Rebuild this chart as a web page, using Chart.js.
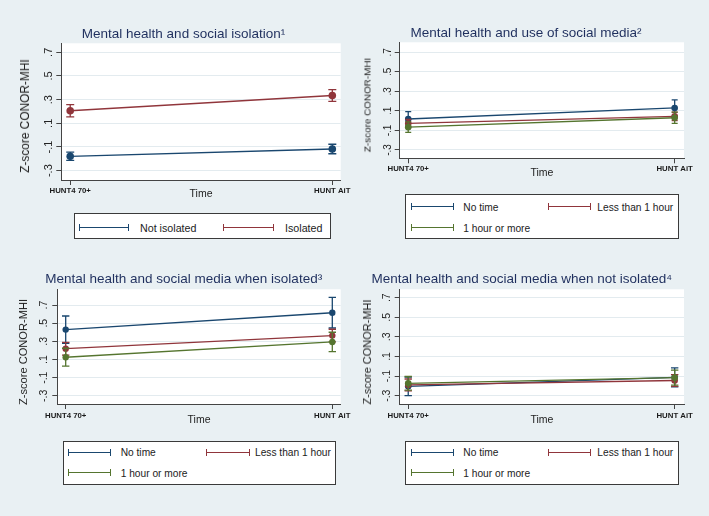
<!DOCTYPE html>
<html>
<head>
<meta charset="utf-8">
<title>Mental health, social isolation and social media</title>
<script src="https://cdn.jsdelivr.net/npm/chart.js"></script>
<style>
  body { margin: 0; background: #e9f0f3; font-family: "Liberation Sans", Arial, sans-serif; }
  #page { position: relative; width: 709px; height: 516px; overflow: hidden; }
  .title { position: absolute; transform: translate(-50%, -50%); white-space: nowrap; font-size: 13.5px; color: #1f2f5e; }
  .ytitle { position: absolute; transform: translate(-50%, -50%) rotate(-90deg); white-space: nowrap; color: #222; }
  .wrap { position: absolute; }
  .legend { position: absolute; background: #fff; border: 1px solid #3a3a3a; box-sizing: border-box; }
  .item { position: absolute; transform: translateY(-50%); white-space: nowrap; color: #222; }
  .sym { position: absolute; height: 1px; }
  .sym::before, .sym::after { content: ''; position: absolute; top: -3px; width: 1px; height: 7px; background: inherit; }
  .sym::before { left: 0; }
  .sym::after { right: 0; }
</style>
</head>
<body>
<div id="page"></div>
<script>
// data
const categories = ['HUNT4 70+', 'HUNT AiT'];
const yTicks = [-0.3, -0.1, 0.1, 0.3, 0.5, 0.7];

const isoLabels = ['Not isolated', 'Isolated'];
const notIsolated = [-0.179, -0.117];
const notIsolatedErr = [0.035, 0.04];
const isolated = [0.206, 0.335];
const isolatedErr = [0.052, 0.05];

const mediaLabels = ['No time', 'Less than 1 hour', '1 hour or more'];

// all participants
const allNoTime = [0.017, 0.13];
const allNoTimeErr = [0.076, 0.082];
const allLess1 = [-0.028, 0.044];
const allLess1Err = [0.042, 0.042];
const allMore1 = [-0.066, 0.03];
const allMore1Err = [0.054, 0.058];

// isolated
const isoNoTime = [0.429, 0.615];
const isoNoTimeErr = [0.15, 0.168];
const isoLess1 = [0.219, 0.363];
const isoLess1Err = [0.07, 0.07];
const isoMore1 = [0.125, 0.293];
const isoMore1Err = [0.099, 0.107];

// not isolated
const notNoTime = [-0.205, -0.113];
const notNoTimeErr = [0.095, 0.097];
const notLess1 = [-0.19, -0.145];
const notLess1Err = [0.06, 0.06];
const notMore1 = [-0.174, -0.116];
const notMore1Err = [0.07, 0.076];

const NAVY = '#1a476f', MAROON = '#90353b', GREEN = '#55752f';
const FONT = '"Liberation Sans", Arial, sans-serif';
Chart.defaults.font.family = FONT;

const panels = [
  {
    title: 'Mental health and social isolation\u00b9', titlePos: [183.5, 33],
    box: [0, 0, 354, 205], plot: [61.3, 43.3, 340.7, 180],
    yRange: [-0.379, 0.776], xRange: [-0.034, 1.032],
    yFont: 11, yPad: 1.4, xPad: 1.3, timePad: 4.7, r: 3.8, cap: 4,
    yTitle: [25, 116.3, 11.9],
    series: [
      { label: isoLabels[0], values: notIsolated, err: notIsolatedErr, color: NAVY },
      { label: isoLabels[1], values: isolated, err: isolatedErr, color: MAROON }
    ],
    legend: { box: [74, 213.3, 330.7, 239.3], font: 10.7,
      rows: [227.7], cols: [[79, 129.3, 140], [222.7, 274, 285]] }
  },
  {
    title: 'Mental health and use of social media\u00b2', titlePos: [526, 32.3],
    box: [354, 0, 355, 185], plot: [399.7, 42.3, 684, 158.3],
    yRange: [-0.385, 0.802], xRange: [-0.032, 1.035],
    yFont: 10, yPad: 0.6, xPad: 1.3, timePad: 5.4, r: 3.3, cap: 3,
    yTitle: [366.7, 104.5, 9.9],
    series: [
      { label: mediaLabels[0], values: allNoTime, err: allNoTimeErr, color: NAVY },
      { label: mediaLabels[1], values: allLess1, err: allLess1Err, color: MAROON },
      { label: mediaLabels[2], values: allMore1, err: allMore1Err, color: GREEN }
    ],
    legend: { box: [404.7, 194.3, 679, 239.3], font: 10.2,
      rows: [206.7, 227.7], cols: [[410.7, 453.3, 463.3], [548.3, 591.7, 597.3]] }
  },
  {
    title: 'Mental health and social media when isolated\u00b3', titlePos: [183.7, 278.3],
    box: [0, 250, 354, 185], plot: [57.3, 289.3, 340.7, 404],
    yRange: [-0.39, 0.873], xRange: [-0.0315, 1.0315],
    yFont: 10.5, yPad: 1.7, xPad: 2.3, timePad: 8.7, r: 3.2, cap: 3.7,
    yTitle: [23.3, 352.2, 11.1],
    series: [
      { label: mediaLabels[0], values: isoNoTime, err: isoNoTimeErr, color: NAVY },
      { label: mediaLabels[1], values: isoLess1, err: isoLess1Err, color: MAROON },
      { label: mediaLabels[2], values: isoMore1, err: isoMore1Err, color: GREEN }
    ],
    legend: { box: [62.7, 440.7, 335.7, 485.3], font: 10.2,
      rows: [452.3, 472.7], cols: [[67.7, 111, 120.7], [205.7, 249.3, 255]] }
  },
  {
    title: 'Mental health and social media when not isolated\u2074', titlePos: [521.8, 278.3],
    box: [354, 250, 355, 185], plot: [399.7, 289.3, 684, 404],
    yRange: [-0.385, 0.786], xRange: [-0.032, 1.035],
    yFont: 10.5, yPad: 1.7, xPad: 2.3, timePad: 8.7, r: 3.3, cap: 3.7,
    yTitle: [366.7, 352.2, 11],
    series: [
      { label: mediaLabels[0], values: notNoTime, err: notNoTimeErr, color: NAVY },
      { label: mediaLabels[1], values: notLess1, err: notLess1Err, color: MAROON },
      { label: mediaLabels[2], values: notMore1, err: notMore1Err, color: GREEN }
    ],
    legend: { box: [404.7, 440.7, 679, 485.3], font: 10.2,
      rows: [452.3, 472.7], cols: [[410.7, 453.3, 463.3], [548.3, 591.7, 597.3]] }
  }
];

// white plot region behind the lines
const plotBackground = {
  id: 'plotBackground',
  beforeDraw(chart) {
    const a = chart.chartArea, ctx = chart.ctx;
    ctx.save();
    ctx.fillStyle = '#fff';
    ctx.fillRect(a.left, a.top, a.right - a.left, a.bottom - a.top);
    ctx.restore();
  }
};

// confidence interval caps, drawn under each series' line and markers
const errorBars = {
  id: 'errorBars',
  beforeDatasetDraw(chart, args, opts) {
    const ds = chart.data.datasets[args.index];
    const y = chart.scales.y, ctx = chart.ctx, cw = opts.cap;
    ctx.save();
    ctx.strokeStyle = ds.borderColor;
    ctx.lineWidth = 1.3;
    args.meta.data.forEach((pt, j) => {
      const v = ds.data[j].y, e = ds.err[j];
      const top = y.getPixelForValue(v + e), bot = y.getPixelForValue(v - e);
      ctx.beginPath();
      ctx.moveTo(pt.x, top); ctx.lineTo(pt.x, bot);
      ctx.moveTo(pt.x - cw, top); ctx.lineTo(pt.x + cw, top);
      ctx.moveTo(pt.x - cw, bot); ctx.lineTo(pt.x + cw, bot);
      ctx.stroke();
    });
    ctx.restore();
  }
};

function fmt(v) {
  return v.toFixed(1).replace('0.', '.');
}

function addDiv(cls, text, css) {
  const d = document.createElement('div');
  d.className = cls;
  if (text) d.textContent = text;
  Object.assign(d.style, css);
  document.getElementById('page').appendChild(d);
  return d;
}

panels.forEach(p => {
  const [bx, by, bw, bh] = p.box;
  const [pl, pt, pr, pb] = p.plot;

  const wrap = addDiv('wrap', '', { left: bx + 'px', top: by + 'px', width: bw + 'px', height: bh + 'px' });
  const canvas = document.createElement('canvas');
  canvas.width = bw;
  canvas.height = bh;
  wrap.appendChild(canvas);

  new Chart(canvas, {
    type: 'line',
    data: {
      datasets: p.series.map((s, i) => ({
        label: s.label,
        data: s.values.map((v, j) => ({ x: j, y: v })),
        err: s.err,
        borderColor: s.color,
        backgroundColor: s.color,
        pointBackgroundColor: s.color,
        pointBorderColor: s.color,
        borderWidth: 1.3,
        pointRadius: p.r,
        pointBorderWidth: 0,
        tension: 0,
        order: p.series.length - i
      }))
    },
    options: {
      responsive: false,
      animation: false,
      events: [],
      layout: { padding: { top: pt - by, right: bx + bw - pr, left: 0, bottom: 0 } },
      plugins: {
        legend: { display: false },
        tooltip: { enabled: false },
        errorBars: { cap: p.cap }
      },
      scales: {
        x: {
          type: 'linear',
          min: p.xRange[0],
          max: p.xRange[1],
          afterBuildTicks: s => { s.ticks = categories.map((c, i) => ({ value: i })); },
          afterFit: s => { s.height = by + bh - pb; s.paddingLeft = 0; s.paddingRight = 0; },
          ticks: {
            callback: v => categories[v],
            autoSkip: false, maxRotation: 0,
            padding: p.xPad,
            color: '#1a1a1a',
            font: { size: 7.8, weight: 'bold' }
          },
          grid: { drawOnChartArea: false, tickLength: 5, tickColor: '#444', tickWidth: 1 },
          border: { color: '#444', width: 1 },
          title: {
            display: true, text: 'Time', color: '#222',
            font: { size: 10.5 },
            padding: { top: 0, bottom: p.timePad }
          }
        },
        y: {
          min: p.yRange[0],
          max: p.yRange[1],
          afterBuildTicks: s => { s.ticks = yTicks.map(v => ({ value: v })); },
          afterFit: s => { s.width = pl - bx; s.paddingTop = 0; s.paddingBottom = 0; },
          ticks: {
            callback: v => fmt(v),
            minRotation: 90, maxRotation: 90,
            crossAlign: 'center',
            padding: p.yPad,
            color: '#222',
            font: { size: p.yFont }
          },
          grid: { color: '#e3ebef', lineWidth: 1, tickLength: 5, tickColor: '#444', tickWidth: 1 },
          border: { color: '#444', width: 1 }
        }
      }
    },
    plugins: [plotBackground, errorBars]
  });

  addDiv('title', p.title, { left: p.titlePos[0] + 'px', top: p.titlePos[1] + 'px' });
  addDiv('ytitle', 'Z-score CONOR-MHI', {
    left: p.yTitle[0] + 'px', top: p.yTitle[1] + 'px', fontSize: p.yTitle[2] + 'px'
  });

  const lg = p.legend;
  addDiv('legend', '', {
    left: lg.box[0] + 'px', top: lg.box[1] + 'px',
    width: (lg.box[2] - lg.box[0]) + 'px', height: (lg.box[3] - lg.box[1]) + 'px'
  });
  p.series.forEach((s, i) => {
    const row = lg.rows[Math.floor(i / 2)];
    const col = lg.cols[i % 2];
    addDiv('sym', '', {
      left: Math.round(col[0]) + 'px', top: Math.floor(row) + 'px',
      width: Math.round(col[1] - col[0]) + 'px', background: s.color
    });
    addDiv('item', s.label, { left: col[2] + 'px', top: row + 'px', fontSize: lg.font + 'px' });
  });
});
</script>
</body>
</html>
